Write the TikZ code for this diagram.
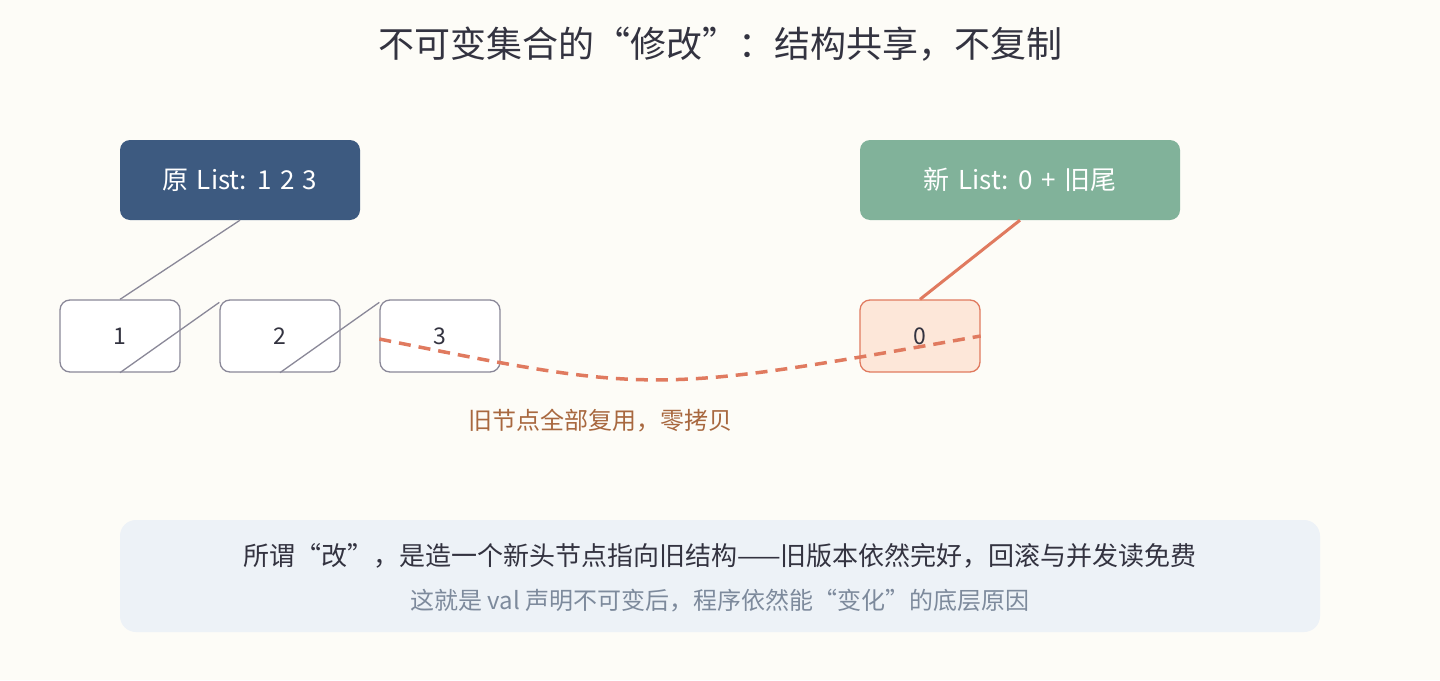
\documentclass[tikz,border=0pt]{standalone}
\usepackage{fontspec}
\setmainfont{Noto Sans CJK SC}
\definecolor{bgcream}{HTML}{FDFCF7}
\definecolor{oldblue}{HTML}{3D5A80}
\definecolor{newgreen}{HTML}{81B29A}
\definecolor{linkgray}{HTML}{8A8898}
\definecolor{coral}{HTML}{E07A5F}
\definecolor{coralfill}{HTML}{FDE7D9}
\definecolor{inkdark}{HTML}{333340}
\definecolor{notebrown}{HTML}{A8683F}
\definecolor{panelblue}{HTML}{EDF2F7}
\definecolor{subgray}{HTML}{7D8A9C}
\begin{document}
\begin{tikzpicture}[x=1pt, y=-1pt]
        \tikzstyle{head}=[rounded corners=10pt, minimum width=240pt, minimum height=80pt, inner sep=0pt, text=white, font={\fontsize{26}{30}\selectfont\spaceskip=0.32em\relax}]
        \tikzstyle{cell}=[rounded corners=10pt, draw=linkgray, line width=1.3pt, fill=white, minimum width=120pt, minimum height=72pt, inner sep=0pt, text=inkdark, font=\fontsize{23}{27}\selectfont]
        \tikzstyle{link}=[linkgray, line width=1.3pt]

        \useasboundingbox[fill=bgcream] (0,0) rectangle (1440,680);

        \node[text=inkdark, font=\fontsize{36}{40}\selectfont] (title) at (720,44) {不可变集合的“修改”：结构共享，不复制};

        \node[head, fill=oldblue] (orig) at (240,180) {原 List: 1 2 3};
        \node[head, fill=newgreen, minimum width=320pt] (newl) at (1020,180) {新 List: 0 + 旧尾};

        \node[cell] (c1) at (120,336) {1};
        \node[cell] (c2) at (280,336) {2};
        \node[cell] (c3) at (440,336) {3};
        \node[cell, draw=coral, fill=coralfill] (c0) at (920,336) {0};

        \draw[link] (orig.south) -- (c1.north);
        \draw[link] (c1.south) -- ([yshift=-3pt]c2.north west);
        \draw[link] (c2.south) -- ([yshift=-3pt]c3.north west);
        \draw[coral, line width=3pt] (newl.south) -- (c0.north);

        \draw[coral, line width=3.5pt, dash pattern=on 12pt off 8pt] ([yshift=-3pt]c3.west) .. controls (653,394) .. (c0.east);

        \node[text=notebrown, font=\fontsize{24}{28}\selectfont] (share) at (600,421) {旧节点全部复用，零拷贝};

        \node[rounded corners=16pt, fill=panelblue, minimum width=1200pt, minimum height=112pt] (panel) at (720,576) {};
        \node[text=inkdark, font=\fontsize{26}{30}\selectfont] (main) at (720,556) {所谓“改”，是造一个新头节点指向旧结构——旧版本依然完好，回滚与并发读免费};
        \node[text=subgray, font=\fontsize{24}{28}\selectfont] (sub) at (720,601) {这就是 val 声明不可变后，程序依然能“变化”的底层原因};
\end{tikzpicture}
\end{document}
